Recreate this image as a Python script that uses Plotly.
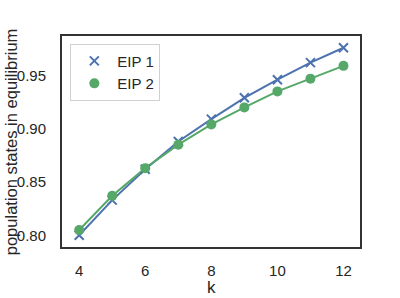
import plotly.graph_objects as go

k = [4, 5, 6, 7, 8, 9, 10, 11, 12]
eip1 = [0.800, 0.833, 0.862, 0.888, 0.909, 0.929, 0.946, 0.962, 0.976]
eip2 = [0.805, 0.837, 0.863, 0.885, 0.904, 0.920, 0.935, 0.947, 0.959]
x_ticks = [4, 6, 8, 10, 12]
y_ticks = [0.80, 0.85, 0.90, 0.95]
y_tick_labels = ["0.80", "0.85", "0.90", "0.95"]
x_title = "k"
y_title = "population states in equilibrium"

BLUE = "#4C72B0"
GREEN = "#55A868"
FONT = "Liberation Sans, Arial, sans-serif"
TXT = "#262626"

fig = go.Figure()
fig.add_trace(go.Scatter(
    x=k, y=eip1, mode="lines", showlegend=False, legendgroup="e1",
    line=dict(color=BLUE, width=2),
))
fig.add_trace(go.Scatter(
    x=k, y=eip2, mode="lines", showlegend=False, legendgroup="e2",
    line=dict(color=GREEN, width=2),
))
fig.add_trace(go.Scatter(
    x=k, y=eip1, mode="markers", name="EIP 1", legendgroup="e1",
    marker=dict(symbol="x-thin", size=9, color=BLUE, line=dict(color=BLUE, width=2)),
))
fig.add_trace(go.Scatter(
    x=k, y=eip2, mode="markers", name="EIP 2", legendgroup="e2",
    marker=dict(symbol="circle", size=10, color=GREEN),
))

fig.update_layout(
    width=400, height=298,
    margin=dict(l=62, r=40, t=36, b=51, pad=0),
    paper_bgcolor="white", plot_bgcolor="white",
    font=dict(family=FONT, size=15, color=TXT),
    legend=dict(
        x=0.028, y=0.964, xanchor="left", yanchor="top",
        bgcolor="white", bordercolor="#d0d0d0", borderwidth=1,
        font=dict(size=15, color=TXT),
        itemwidth=36, tracegroupgap=0,
        traceorder="normal",
    ),
    xaxis=dict(
        range=[3.48, 12.5], tickvals=x_ticks,
        showgrid=False, zeroline=False, automargin=False,
        showline=True, mirror=True, linecolor="#333333", linewidth=2,
        ticks="outside", ticklen=9, tickcolor="rgba(0,0,0,0)",
        tickfont=dict(size=15, color=TXT),
    ),
    yaxis=dict(
        range=[0.789, 0.987], tickvals=y_ticks, ticktext=y_tick_labels,
        showgrid=False, zeroline=False, automargin=False,
        showline=True, mirror=True, linecolor="#333333", linewidth=2,
        ticks="outside", ticklen=11, tickcolor="rgba(0,0,0,0)",
        tickfont=dict(size=15, color=TXT),
    ),
    annotations=[
        dict(text=x_title, xref="paper", yref="paper", x=0.5, y=-0.19,
             xanchor="center", yanchor="middle", showarrow=False,
             font=dict(size=17, color=TXT, family=FONT)),
        dict(text=y_title, xref="paper", yref="paper", x=-0.172, y=0.5,
             xanchor="center", yanchor="middle", textangle=-90, showarrow=False,
             borderpad=0,
             font=dict(size=16.5, color=TXT, family=FONT)),
    ],
)

fig.write_html(
    "out.html",
    include_plotlyjs=True,
    config={"displayModeBar": False},
    post_script="document.body.style.margin='0';document.body.style.padding='0';",
)
